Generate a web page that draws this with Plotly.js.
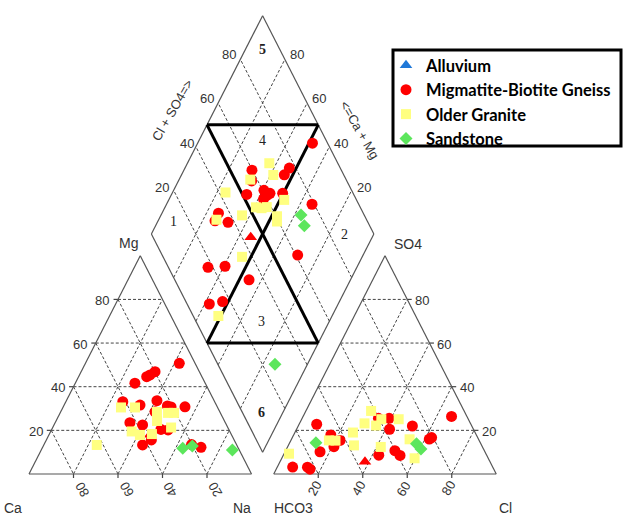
<!DOCTYPE html>
<html><head><meta charset="utf-8">
<script src="https://cdn.plot.ly/plotly-3.0.1.min.js"></script>
<style>html,body{margin:0;padding:0;background:#fff}#chart{width:623px;height:518px}</style>
</head><body><div id="chart"></div>
<script>
// ---------- DATA (percent values) ----------
// Cation triangle (Na = 100 - Ca - Mg)
const gneissCa  = [7.1,19.9,22.9,24.8,31.6,41.3,34.3,25.7,22.2,20.8,14.5,42.9,37.7,29.1,30.5,27.4,37.2,42.3,20.2,16.6];
const gneissMg  = [50.7,46.9,45.4,44.6,41.6,33.1,31.6,33.6,31.2,30.7,30.8,23.5,22.5,28.5,20.4,20.2,15.6,13.3,13.5,12.2];
const graniteCa = [62.9,43.4,37.1,28.3,30.3,23.5,20.8,25.5,44.1,41.2,35.6];
const graniteMg = [13.3,30.5,30.5,28.4,24.3,28.0,28.0,21.3,19.5,17.9,18.3];
const sandCa    = [25.0,20.2,3.1];
const sandMg    = [11.8,12.8,11.0];
const alluvCa   = [36.6];
const alluvMg   = [18.0];
// Anion triangle (HCO3 = 100 - Cl - SO4)
const gneissCl  = [7.9,16.7,19.9,20.8,15.7,6.9,13.6,15.2,34.3,39.1,41.8,51.3,66.7,61.9,62.6,42.9,49.1,52.5,22.1];
const gneissSO4 = [22.8,17.9,14.9,12.5,10.2,3.2,3.1,2.2,25.5,25.5,20.5,22.0,26.4,16.0,16.7,8.6,10.7,8.5,15.4];
const graniteCl = [2.2,17.1,20.1,26.1,29.5,29.2,29.3,34.9,35.8,43.6,41.9,53.1,59.7];
const graniteSO4= [9.3,15.4,15.3,19.0,13.1,23.2,28.9,22.2,25.1,25.1,12.4,15.9,7.2];
const sandCl    = [11.8,57.2,60.4];
const sandSO4   = [14.3,13.9,11.5];
const alluvCl   = [38.2];
const alluvSO4  = [5.6];
// Diamond (Cl+SO4, Ca+Mg)
const gneissClSO4  = [93.2,77.1,73.3,59.8,57.2,51.9,60.6,61.0,58.4,62.6,68.3,79.0,34.9,31.6,37.1,60.9,17.8,25.7,33.4,10.0,16.5];
const gneissCaMg   = [48.4,53.1,53.8,69.4,67.1,66.2,59.4,56.8,57.6,56.0,50.3,34.6,74.6,74.4,68.2,29.4,66.9,59.5,45.6,57.9,52.5];
const graniteClSO4 = [69.2,68.3,56.9,42.8,53.1,55.4,58.0,45.0,60.5,59.3,67.5,32.5,35.5,11.3];
const graniteCaMg  = [63.2,58.7,68.0,76.2,59.1,56.4,54.3,63.5,47.6,46.4,48.1,74.0,54.0,51.1];
const sandClSO4    = [71.6,70.6,25.7];
const sandCaMg     = [37.1,33.1,14.6];
const alluvClSO4   = [43.9];
const alluvCaMg    = [54.6];

const groups = ['Alluvium','Migmatite-Biotite Gneiss','Older Granite','Sandstone'];
const tickVals = [20,40,60,80];

// ---------- GEOMETRY ----------
const GAP = 0.1, h = Math.sqrt(3)/2;
function cat(ca, mg){ const na = 100-ca-mg; return [na/100 + mg/200, h*mg/100]; }
function an(cl, so4){ return [1+GAP + cl/100 + so4/200, h*so4/100]; }
function dia(a, c){ return [1+GAP/2 + (a-c)/200, h*GAP + h*(a+c)/100]; }

const W=623, H=518;
const PX0=29, PXU=222.5, PY0=474, PYU=252;
const xr=[-PX0/PXU, (W-PX0)/PXU], yr=[(PY0-H)/PYU, PY0/PYU];

// ---------- STYLES ----------
const styles = {
  'Alluvium': {symbol:'triangle-up', color:'#FF0000', legendColor:'#1F78D8', size:11},
  'Migmatite-Biotite Gneiss': {symbol:'circle', color:'#FF0000', legendColor:'#FF0000', size:11},
  'Older Granite': {symbol:'square', color:'#FFFF80', legendColor:'#FFFF80', size:10},
  'Sandstone': {symbol:'diamond', color:'#5CE65C', legendColor:'#5CE65C', size:10}
};

function pts(fn, A, B){ const xs=[], ys=[]; for(let i=0;i<A.length;i++){ const p=fn(A[i],B[i]); xs.push(p[0]); ys.push(p[1]); } return {x:xs,y:ys}; }

const sets = {
  'Alluvium': [[cat,alluvCa,alluvMg],[an,alluvCl,alluvSO4],[dia,alluvClSO4,alluvCaMg]],
  'Migmatite-Biotite Gneiss': [[cat,gneissCa,gneissMg],[an,gneissCl,gneissSO4],[dia,gneissClSO4,gneissCaMg]],
  'Older Granite': [[cat,graniteCa,graniteMg],[an,graniteCl,graniteSO4],[dia,graniteClSO4,graniteCaMg]],
  'Sandstone': [[cat,sandCa,sandMg],[an,sandCl,sandSO4],[dia,sandClSO4,sandCaMg]]
};

const traces = [];
groups.forEach(g=>{
  const s = styles[g]; const X=[], Y=[];
  sets[g].forEach(([fn,A,B])=>{ const p=pts(fn,A,B); X.push(...p.x, null); Y.push(...p.y, null); });
  traces.push({type:'scatter', mode:'markers', x:X, y:Y, showlegend:false, hoverinfo:'skip',
    marker:{symbol:s.symbol, color:s.color, size:s.size, line:{width:0}}});
});
groups.forEach(g=>{
  const s = styles[g];
  traces.push({type:'scatter', mode:'markers', x:[null], y:[null], name:g, showlegend:true,
    marker:{symbol:s.symbol, color:s.legendColor, size:s.size, line:{width:0}}});
});

// ---------- SHAPES ----------
const shapes = [];
function seg(p,q,line){ shapes.push({type:'line', xref:'x', yref:'y', x0:p[0], y0:p[1], x1:q[0], y1:q[1], line:line, layer:'below'}); }
const dashL = {color:'#444', width:1, dash:'3px,2px'};
const outL = {color:'#555', width:1.2};
const thickL = {color:'#000', width:3};
const tickL = {color:'#444', width:1.2};

tickVals.forEach(v=>{
  // cation
  seg(cat(100-v, v), cat(0, v), dashL);
  seg(cat(v, 100-v), cat(v, 0), dashL);
  seg(cat(100-v, 0), cat(0, 100-v), dashL);
  // anion
  seg(an(0, v), an(100-v, v), dashL);
  seg(an(v, 0), an(v, 100-v), dashL);
  seg(an(0, 100-v), an(100-v, 0), dashL);
  // diamond
  seg(dia(v, 0), dia(v, 100), dashL);
  seg(dia(0, v), dia(100, v), dashL);
  // ticks
  const b = cat(v, 0); seg(b, [b[0], b[1]-0.016], tickL);
  const l = cat(100-v, v); seg(l, [l[0]-0.02, l[1]], tickL);
  const ab = an(v, 0); seg(ab, [ab[0], ab[1]-0.016], tickL);
  const ar = an(100-v, v); seg(ar, [ar[0]+0.02, ar[1]], tickL);
});
seg(cat(100,0), cat(0,0), outL); seg(cat(0,0), cat(0,100), outL); seg(cat(0,100), cat(100,0), outL);
seg(an(0,0), an(100,0), outL); seg(an(100,0), an(0,100), outL); seg(an(0,100), an(0,0), outL);
seg(dia(0,0), dia(0,100), outL); seg(dia(0,100), dia(100,100), outL); seg(dia(100,100), dia(100,0), outL); seg(dia(100,0), dia(0,0), outL);
seg(dia(50,100), dia(100,50), thickL);
seg(dia(0,50), dia(50,0), thickL);
seg(dia(50,100), dia(50,0), thickL);
seg(dia(100,50), dia(0,50), thickL);
// legend frame
shapes.push({type:'rect', xref:'paper', yref:'paper', x0:393/W, x1:621/W, y0:1-146/H, y1:1-50/H,
  line:{color:'#000', width:3}, fillcolor:'#fff', layer:'below'});

// ---------- TEXT ----------
const ann = [];
function T(text, px, py, o){ o=o||{}; ann.push(Object.assign({text:text, xref:'paper', yref:'paper', x:px/W, y:1-py/H,
  xanchor:'center', yanchor:'middle', showarrow:false,
  font:{family:'Liberation Sans, Arial, sans-serif', size:o.size||13, color:o.color||'#333', weight:o.weight||'normal'}}, o.extra||{})); }
const big = {size:14};
T('Mg',128,243,big); T('Ca',13,508,big); T('Na',242,508,big);
T('HCO3',293,508,big); T('Cl',506,508,big); T('SO4',408,244,big);
const mgPos=[[101.7,300],[80,344],[58.3,387],[36,431]];
['80','60','40','20'].forEach((t,i)=>T(t,mgPos[i][0],mgPos[i][1]));
const caPos=[[82,490],[126.7,490],[170,490],[215,490]];
['80','60','40','20'].forEach((t,i)=>T(t,caPos[i][0],caPos[i][1],{extra:{textangle:-120}}));
const clPos=[[314.3,488],[358.3,488],[403,489],[448,488]];
['20','40','60','80'].forEach((t,i)=>T(t,clPos[i][0],clPos[i][1],{extra:{textangle:-60}}));
const so4Pos=[[421.7,300],[444,344],[466.7,387],[489.3,431]];
['80','60','40','20'].forEach((t,i)=>T(t,so4Pos[i][0],so4Pos[i][1]));
const dlPos=[[229,54],[206.7,99],[186.5,143],[161.7,187.3]];
['80','60','40','20'].forEach((t,i)=>T(t,dlPos[i][0],dlPos[i][1]));
const drPos=[[297,54],[319.3,99],[341,143],[363.5,187]];
['80','60','40','20'].forEach((t,i)=>T(t,drPos[i][0],drPos[i][1]));
T('Cl + SO4=>',172,110,{extra:{textangle:-60}});
T('<=Ca + Mg',359,130,{extra:{textangle:60}});
function R(t,px,py,b){ T(t,px,py,{size:14, color:'#222', weight:b?'bold':'normal'}); ann[ann.length-1].font.family='Liberation Serif, Times New Roman, serif'; }
R('5',262.7,49.3,true); R('4',262.7,140,false); R('1',173.3,221.7,false);
R('2',344,234.3,false); R('3',261.7,321.7,false); R('6',261.7,412.3,true);

const layout = {
  width:W, height:H, margin:{l:0,r:0,t:0,b:0},
  paper_bgcolor:'#fff', plot_bgcolor:'#fff',
  xaxis:{range:xr, visible:false, fixedrange:true},
  yaxis:{range:yr, visible:false, fixedrange:true},
  shapes:shapes, annotations:ann,
  showlegend:true,
  legend:{x:386/W, y:1-48/H, xanchor:'left', yanchor:'top', bgcolor:'rgba(0,0,0,0)', borderwidth:0,
    font:{family:'Lato, sans-serif', size:16.5, color:'#000', weight:'bold'}, traceorder:'normal', tracegroupgap:0}
};
Plotly.newPlot('chart', traces, layout, {staticPlot:true, displayModeBar:false});
</script></body></html>
